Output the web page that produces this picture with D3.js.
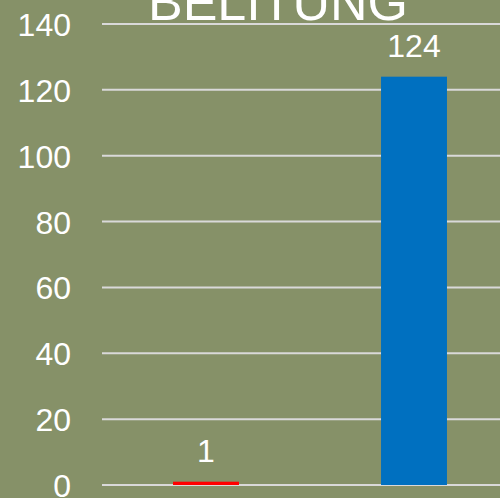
<!DOCTYPE html>
<html>
<head>
<meta charset="utf-8">
<script src="https://cdn.jsdelivr.net/npm/d3@7"></script>
<style>
  html, body { margin: 0; padding: 0; background: #869168; }
  svg { display: block; font-family: "Liberation Sans", Arial, sans-serif; }
</style>
</head>
<body>
<svg id="chart"></svg>
<script>
const title = "BELITUNG";
const categories = ["A", "B"];
const values = [1, 124];
const barColors = ["#FF0000", "#0070C0"];
const yTicks = [0, 20, 40, 60, 80, 100, 120, 140];

const width = 500, height = 498;
const margin = { top: 24, right: -18, bottom: 13, left: 102 };

const svg = d3.select("#chart").attr("width", width).attr("height", height);

svg.append("rect").attr("width", width).attr("height", height).attr("fill", "#869168");

const x = d3.scaleBand()
  .domain(categories)
  .range([margin.left, width - margin.right])
  .paddingInner(0.683)
  .paddingOuter(0.3415);

const y = d3.scaleLinear()
  .domain([0, 140])
  .range([height - margin.bottom, margin.top]);

// gridlines
svg.append("g")
  .selectAll("line")
  .data(yTicks)
  .join("line")
  .attr("x1", margin.left)
  .attr("x2", width)
  .attr("y1", d => y(d))
  .attr("y2", d => y(d))
  .attr("stroke", "#D9D9D9")
  .attr("stroke-width", 2);

// y axis labels
const yAxis = svg.append("g")
  .attr("transform", `translate(71,0)`)
  .call(d3.axisLeft(y).tickValues(yTicks).tickSize(0).tickPadding(0));
yAxis.select(".domain").remove();
yAxis.selectAll("text")
  .attr("fill", "#fff")
  .attr("font-size", 32)
  .attr("font-family", "Liberation Sans, Arial, sans-serif")
  .attr("dy", "0.36em");

// bars
svg.append("g")
  .selectAll("rect")
  .data(values)
  .join("rect")
  .attr("x", (d, i) => x(categories[i]))
  .attr("width", x.bandwidth())
  .attr("y", d => y(d))
  .attr("height", d => y(0) - y(d))
  .attr("fill", (d, i) => barColors[i]);

// value labels
svg.append("g")
  .selectAll("text")
  .data(values)
  .join("text")
  .attr("x", (d, i) => x(categories[i]) + x.bandwidth() / 2)
  .attr("y", d => y(d) - 20)
  .attr("text-anchor", "middle")
  .attr("fill", "#fff")
  .attr("font-size", 32)
  .text(d => d);

// title (cropped at top)
svg.append("text")
  .attr("x", 278)
  .attr("y", 20)
  .attr("text-anchor", "middle")
  .attr("fill", "#fff")
  .attr("font-size", 52)
  .text(title);
</script>
</body>
</html>
